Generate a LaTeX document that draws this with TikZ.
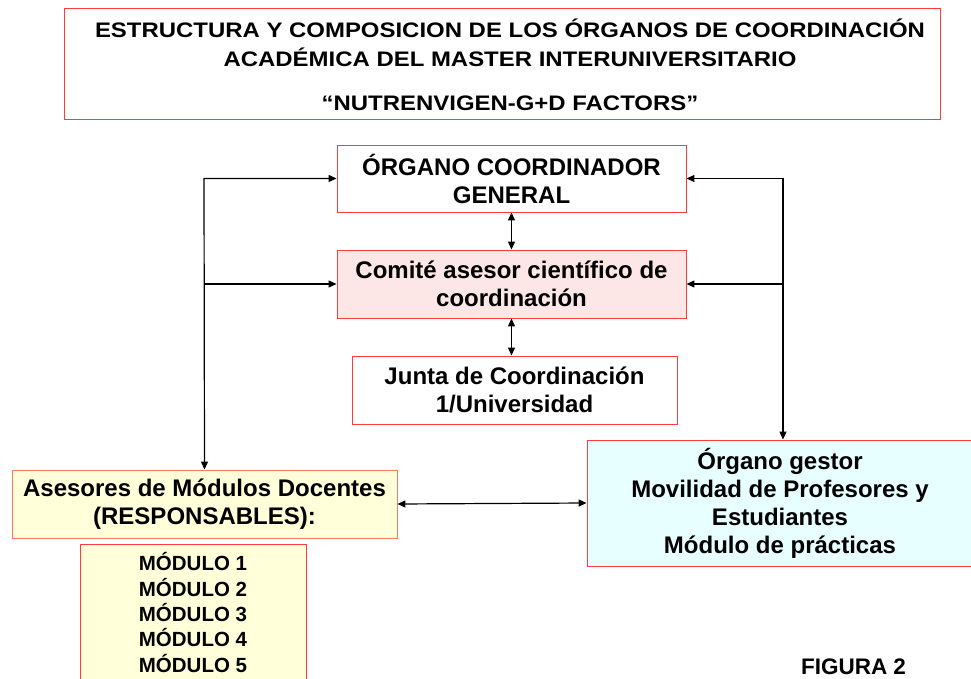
\documentclass[tikz,border=0pt]{standalone}
\usepackage{fontspec}
\setmainfont{Liberation Sans}
\usetikzlibrary{arrows.meta,calc}
\definecolor{boxred}{RGB}{255,60,60}
\definecolor{salmon}{RGB}{255,120,100}
\definecolor{pinkfill}{RGB}{253,230,230}
\definecolor{yelfill}{RGB}{255,255,218}
\definecolor{cyanfill}{RGB}{232,255,255}
\newcommand{\tstretch}[1]{\scalebox{1.14}[1]{#1}}
\tikzset{
  box/.style={draw=boxred, line width=0.9pt, rectangle, align=center, inner sep=0pt,
    font=\bfseries\fontsize{24}{28}\selectfont},
  con/.style={line width=1.2pt, black, -{Triangle[length=8pt,width=7pt]}},
  dcon/.style={line width=1.2pt, black, {Triangle[length=8pt,width=7pt]}-{Triangle[length=8pt,width=7pt]}},
}
\begin{document}
\begin{tikzpicture}[x=1pt,y=-1pt]
\useasboundingbox (0,0) rectangle (971,679);
\fill[white] (0,0) rectangle (971,679);

\node[box, minimum width=876pt, minimum height=111pt] (title) at (502,63.5) {};
\node[align=center, inner sep=0pt, font=\bfseries\fontsize{21}{29}\selectfont] (titletext) at (510,64.5)
  {\tstretch{ESTRUCTURA Y COMPOSICION DE LOS ÓRGANOS DE COORDINACIÓN}\\\tstretch{ACADÉMICA DEL MASTER INTERUNIVERSITARIO}\\[15pt]\tstretch{“NUTRENVIGEN-G+D FACTORS”}};

\node[box, minimum width=349pt, minimum height=67pt] (gen) at (511.5,178.5) {ÓRGANO COORDINADOR\\GENERAL};
\node[box, fill=pinkfill, minimum width=349pt, minimum height=68pt] (com) at (511.5,284) {Comité asesor científico de\\coordinación};
\node[box, minimum width=325pt, minimum height=68pt] (junta) at (514.5,390) {Junta de Coordinación\\1/Universidad};
\node[box, draw=salmon, fill=yelfill, minimum width=385pt, minimum height=68pt] (ases) at (204.5,504) {Asesores de Módulos Docentes\\(RESPONSABLES):};
\node[box, fill=yelfill, minimum width=226pt, minimum height=136pt, font=\bfseries\fontsize{20.5}{25.3}\selectfont, anchor=north] (mods) at (193,544)
  {MÓDULO 1\\MÓDULO 2\\MÓDULO 3\\MÓDULO 4\\MÓDULO 5};
\node[box, fill=cyanfill, minimum width=386pt, minimum height=126pt] (gest) at (780,503)
  {Órgano gestor\\Movilidad de Profesores y\\Estudiantes\\Módulo de prácticas};

\node[font=\bfseries\fontsize{22.5}{26}\selectfont, inner sep=0pt] (fig) at (853.5,667) {FIGURA 2};

\coordinate (lv) at (204,178.5);
\coordinate (rv) at (783,178.5);

\draw[dcon] (ases.north) -- (lv) -- (gen.west);
\draw[con] (ases.north |- com.west) -- (com.west);
\draw[dcon] (gen.east) -- (rv) -- (rv |- gest.north);
\draw[con] (rv |- com.east) -- (com.east);
\draw[dcon] (gen.south) -- (com.north);
\draw[dcon] (com.south) -- (junta.north -| com.south);
\draw[dcon] (ases.east) -- (gest.west);
\end{tikzpicture}
\end{document}
